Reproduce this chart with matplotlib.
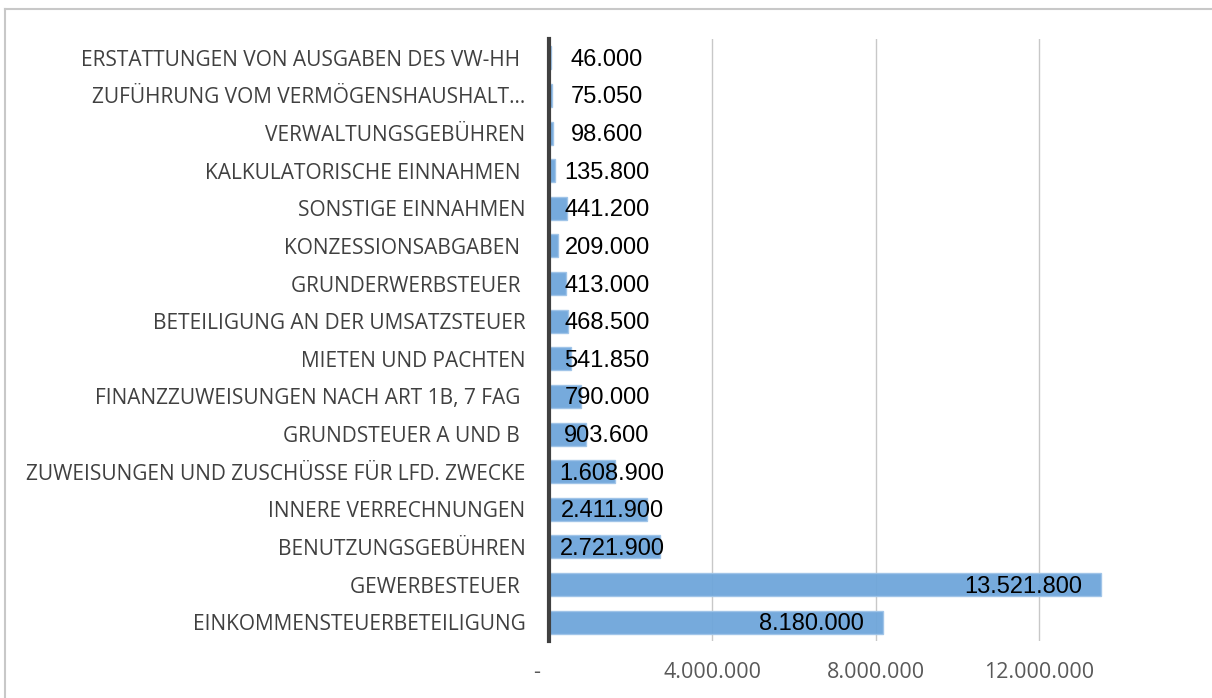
import matplotlib.pyplot as plt
from matplotlib.lines import Line2D
from matplotlib.transforms import ScaledTranslation

# categories, top to bottom as shown
kategorien = [
    'ERSTATTUNGEN VON AUSGABEN DES VW-HH ',
    'ZUFÜHRUNG VOM VERMÖGENSHAUSHALT...',
    'VERWALTUNGSGEBÜHREN',
    'KALKULATORISCHE EINNAHMEN ',
    'SONSTIGE EINNAHMEN',
    'KONZESSIONSABGABEN ',
    'GRUNDERWERBSTEUER ',
    'BETEILIGUNG AN DER UMSATZSTEUER',
    'MIETEN UND PACHTEN',
    'FINANZZUWEISUNGEN NACH ART 1B, 7 FAG ',
    'GRUNDSTEUER A UND B ',
    'ZUWEISUNGEN UND ZUSCHÜSSE FÜR LFD. ZWECKE',
    'INNERE VERRECHNUNGEN',
    'BENUTZUNGSGEBÜHREN',
    'GEWERBESTEUER ',
    'EINKOMMENSTEUERBETEILIGUNG',
]
werte = [46000, 75050, 98600, 135800, 441200, 209000, 413000, 468500,
         541850, 790000, 903600, 1608900, 2411900, 2721900, 13521800, 8180000]
wert_labels = ['46.000', '75.050', '98.600', '135.800', '441.200', '209.000',
               '413.000', '468.500', '541.850', '790.000', '903.600',
               '1.608.900', '2.411.900', '2.721.900', '13.521.800', '8.180.000']
x_ticks = [0, 4000000, 8000000, 12000000]
x_ticklabels = ['-', '4.000.000', '8.000.000', '12.000.000']

fig = plt.figure(figsize=(12.12, 6.98), dpi=100)
W, H = 1212, 698
ax = fig.add_axes([549 / W, (H - 641) / H, (1202 - 549) / W, (641 - 39) / H])

y = list(range(len(kategorien)))
ax.barh(y, werte, height=0.61, color='#6fa6da', edgecolor='#9fc4e8',
        linewidth=1, alpha=0.95, zorder=2)
ax.set_ylim(len(kategorien) - 0.5, -0.5)
ax.set_xlim(0, 16000000)

ax.set_yticks(y)
ax.set_yticklabels(kategorien, fontfamily='Open Sans', fontsize=15, color='#404040')
ax.set_xticks(x_ticks)
ax.set_xticklabels(x_ticklabels, fontfamily='Open Sans', fontsize=15.5, color='#595959')
ax.tick_params(axis='y', length=0, pad=17)
ax.tick_params(axis='x', length=0, pad=15)
# the "-" sits a little left of the zero line
first = ax.get_xticklabels()[0]
first.set_transform(first.get_transform() + ScaledTranslation(-0.12, 0, fig.dpi_scale_trans))

for s in ax.spines.values():
    s.set_visible(False)
ax.grid(axis='x', color='#c8c8c8', linewidth=1, zorder=0)
ax.axvline(0, color='#404040', linewidth=3, zorder=3, clip_on=False)

for yi, v, t in zip(y, werte, wert_labels):
    if v > 5000000:
        ax.annotate(t, (v, yi), xytext=(-19, -2), textcoords='offset pixels',
                    ha='right', va='center', fontsize=17,
                    fontfamily='Liberation Sans', color='black', zorder=4)
    else:
        off = 63 if len(t) > 7 else 58
        ax.annotate(t, (0, yi), xytext=(off, -2), textcoords='offset pixels',
                    ha='center', va='center', fontsize=17,
                    fontfamily='Liberation Sans', color='black', zorder=4)

# chart area border (right and bottom are cut off)
fig.add_artist(Line2D([5 / W, 1], [(H - 9) / H] * 2, color='#c8c8c8', linewidth=1.5))
fig.add_artist(Line2D([5 / W] * 2, [0, (H - 9) / H], color='#c8c8c8', linewidth=1.5))

fig.savefig('out.png', dpi=100)
